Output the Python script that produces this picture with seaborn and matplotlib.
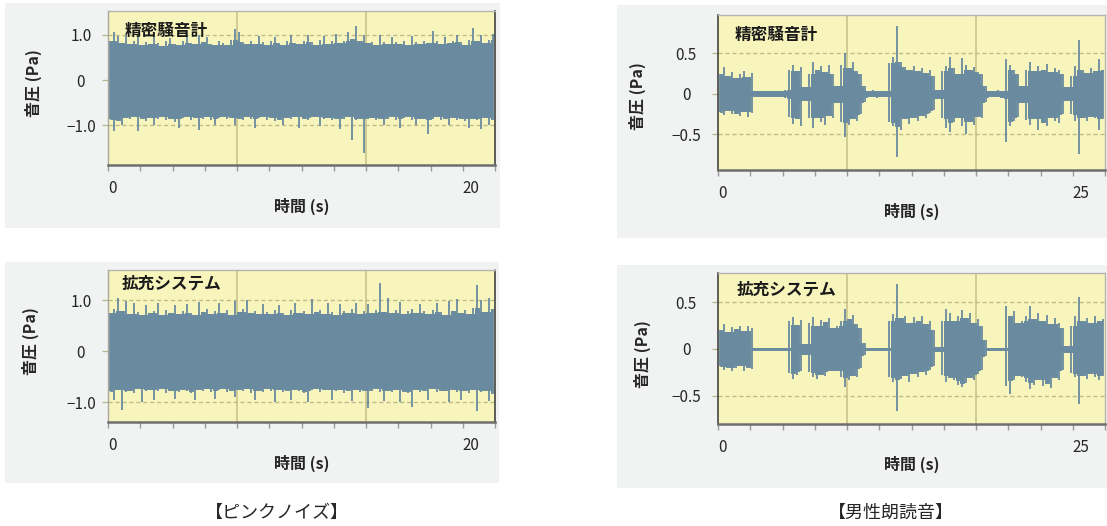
import numpy as np
import pandas as pd
import matplotlib
matplotlib.use("Agg")
import matplotlib.pyplot as plt
from matplotlib.patches import Rectangle
import seaborn as sns

sns.set_style("white")
plt.rcParams['font.family'] = ['Noto Sans CJK JP', 'DejaVu Sans']
plt.rcParams['axes.unicode_minus'] = True

# ---------------------------------------------------------------------------
# Data: waveform envelopes (max / min sound pressure per display column, Pa)
# 96 columns per trace, 8 columns per minor time division.
# ---------------------------------------------------------------------------
pink_meter_upper = [
    0.85, 1.05, 0.98, 0.82, 1.00, 0.80, 0.86, 0.95, 0.78, 0.84, 0.80, 0.95,
    0.82, 0.76, 0.85, 0.93, 0.80, 0.78, 0.86, 0.98, 0.82, 0.79, 1.00, 0.84,
    0.95, 0.80, 0.77, 0.86, 0.82, 0.78, 0.88, 1.13, 1.05, 0.83, 0.80, 0.87,
    0.79, 0.98, 0.84, 0.78, 0.85, 0.95, 0.81, 0.77, 0.86, 1.00, 0.82, 0.79,
    0.87, 1.00, 0.83, 0.78, 0.88, 0.98, 0.80, 0.85, 1.02, 0.82, 0.87, 1.05,
    0.90, 1.20, 0.86, 1.00, 0.81, 0.84, 0.78, 1.00, 0.83, 0.79, 0.95, 0.84,
    0.80, 0.87, 0.78, 0.98, 0.83, 0.80, 0.86, 0.82, 1.08, 0.85, 0.79, 0.95,
    0.81, 0.86, 1.00, 0.83, 0.78, 0.88, 1.15, 0.86, 1.00, 0.82, 0.88, 1.02,
]
pink_meter_lower = [
    -0.85, -1.12, -0.88, -1.00, -0.82, -0.86, -0.80, -1.12, -0.84, -0.90, -0.81, -1.00,
    -0.86, -0.79, -0.88, -0.83, -0.92, -1.05, -0.84, -0.80, -0.87, -0.82, -1.10, -0.85,
    -0.80, -0.88, -1.00, -0.83, -0.79, -0.86, -0.81, -0.98, -0.84, -0.88, -0.80, -0.86,
    -1.05, -0.83, -0.79, -0.87, -0.82, -0.90, -0.85, -1.00, -0.81, -0.86, -0.80, -1.05,
    -0.84, -0.88, -0.82, -0.79, -1.02, -0.85, -0.81, -0.87, -0.83, -1.08, -0.86, -0.80,
    -1.33, -0.88, -0.84, -1.60, -0.86, -0.81, -0.88, -0.83, -1.00, -0.85, -0.80, -0.87,
    -1.05, -0.84, -0.80, -0.88, -1.00, -0.83, -0.86, -1.18, -0.85, -0.80, -0.88, -0.84,
    -1.00, -0.81, -0.87, -0.83, -0.90, -1.05, -0.84, -0.88, -1.08, -0.82, -0.98, -0.86,
]
pink_system_upper = [
    0.75, 0.82, 1.05, 0.78, 0.98, 0.72, 0.95, 0.76, 0.70, 0.90, 0.74, 0.78,
    0.95, 0.71, 0.80, 0.75, 0.90, 0.73, 0.79, 0.93, 0.74, 0.70, 0.97, 0.77,
    0.82, 0.72, 0.78, 0.95, 0.74, 0.80, 0.71, 0.98, 0.76, 0.82, 1.00, 0.74,
    0.79, 0.72, 0.92, 0.77, 0.73, 0.81, 0.90, 0.75, 0.70, 0.80, 0.95, 0.74,
    0.78, 0.72, 1.02, 0.76, 0.81, 0.73, 0.95, 0.77, 0.71, 0.92, 0.79, 0.74,
    0.82, 0.95, 0.73, 0.78, 0.93, 0.75, 0.80, 1.33, 0.77, 1.05, 0.74, 0.80,
    0.97, 0.72, 0.78, 0.83, 0.75, 0.92, 0.79, 0.73, 0.81, 0.95, 0.76, 0.71,
    0.98, 0.78, 1.02, 0.75, 0.80, 0.73, 0.85, 1.30, 1.00, 0.77, 1.05, 0.82,
]
pink_system_lower = [
    -0.78, -0.95, -0.74, -1.15, -0.80, -0.76, -0.83, -0.72, -1.00, -0.79, -0.75, -0.95,
    -0.78, -0.73, -0.82, -0.76, -0.93, -0.80, -0.74, -0.78, -0.82, -0.95, -0.75, -0.79,
    -0.72, -0.81, -0.93, -0.77, -0.73, -0.80, -0.76, -0.90, -0.74, -0.79, -0.72, -0.82,
    -0.95, -0.76, -0.80, -0.73, -0.78, -1.00, -0.75, -0.81, -0.77, -0.95, -0.74, -0.79,
    -0.82, -1.00, -0.76, -0.72, -0.80, -0.77, -0.74, -0.95, -0.79, -0.75, -0.82, -0.77,
    -0.98, -0.74, -0.80, -0.76, -1.12, -0.78, -0.73, -0.81, -0.97, -0.76, -0.80, -0.74,
    -1.00, -0.78, -0.82, -1.10, -0.75, -0.80, -0.77, -0.95, -0.73, -0.81, -0.76, -0.79,
    -1.00, -0.74, -0.80, -0.95, -0.77, -0.82, -0.75, -1.17, -0.80, -0.76, -0.98, -0.83,
]
speech_meter_upper = [
    0.25, 0.33, 0.22, 0.27, 0.20, 0.24, 0.28, 0.21, 0.26, 0.04, 0.03, 0.04,
    0.03, 0.04, 0.03, 0.04, 0.05, 0.30, 0.36, 0.28, 0.33, 0.08, 0.25, 0.40,
    0.30, 0.34, 0.27, 0.36, 0.24, 0.10, 0.36, 0.51, 0.32, 0.40, 0.28, 0.24,
    0.10, 0.04, 0.05, 0.03, 0.04, 0.04, 0.38, 0.45, 0.84, 0.40, 0.33, 0.30,
    0.35, 0.28, 0.32, 0.26, 0.30, 0.22, 0.05, 0.28, 0.35, 0.46, 0.32, 0.25,
    0.44, 0.36, 0.30, 0.33, 0.27, 0.24, 0.10, 0.04, 0.03, 0.05, 0.04, 0.43,
    0.36, 0.30, 0.25, 0.10, 0.30, 0.40, 0.28, 0.34, 0.30, 0.37, 0.27, 0.32,
    0.30, 0.25, 0.08, 0.22, 0.35, 0.67, 0.30, 0.26, 0.32, 0.28, 0.43, 0.30,
]
speech_meter_lower = [
    -0.22, -0.26, -0.20, -0.25, -0.23, -0.27, -0.21, -0.28, -0.24, -0.03, -0.04, -0.03,
    -0.04, -0.03, -0.04, -0.03, -0.05, -0.28, -0.37, -0.30, -0.40, -0.08, -0.30, -0.42,
    -0.28, -0.35, -0.38, -0.26, -0.30, -0.10, -0.35, -0.53, -0.38, -0.30, -0.33, -0.25,
    -0.10, -0.04, -0.03, -0.05, -0.04, -0.03, -0.35, -0.40, -0.78, -0.45, -0.30, -0.37,
    -0.28, -0.33, -0.26, -0.30, -0.24, -0.20, -0.05, -0.30, -0.42, -0.47, -0.35, -0.28,
    -0.40, -0.49, -0.33, -0.38, -0.27, -0.30, -0.10, -0.04, -0.03, -0.04, -0.05, -0.59,
    -0.40, -0.33, -0.28, -0.10, -0.32, -0.38, -0.30, -0.44, -0.35, -0.40, -0.28, -0.33,
    -0.36, -0.25, -0.08, -0.25, -0.33, -0.74, -0.28, -0.33, -0.27, -0.30, -0.44, -0.30,
]
speech_system_upper = [
    0.20, 0.27, 0.18, 0.23, 0.21, 0.25, 0.19, 0.24, 0.22, 0.01, 0.01, 0.01,
    0.01, 0.01, 0.01, 0.01, 0.01, 0.30, 0.34, 0.26, 0.31, 0.05, 0.28, 0.34,
    0.25, 0.31, 0.29, 0.33, 0.22, 0.25, 0.30, 0.43, 0.32, 0.36, 0.27, 0.22,
    0.06, 0.01, 0.01, 0.01, 0.01, 0.01, 0.30, 0.37, 0.69, 0.33, 0.35, 0.28,
    0.34, 0.30, 0.35, 0.27, 0.30, 0.20, 0.02, 0.30, 0.43, 0.38, 0.30, 0.35,
    0.42, 0.33, 0.38, 0.28, 0.32, 0.25, 0.10, 0.01, 0.01, 0.01, 0.01, 0.46,
    0.35, 0.40, 0.28, 0.30, 0.35, 0.46, 0.32, 0.38, 0.30, 0.36, 0.27, 0.33,
    0.28, 0.22, 0.03, 0.25, 0.35, 0.55, 0.30, 0.33, 0.28, 0.35, 0.30, 0.32,
]
speech_system_lower = [
    -0.18, -0.22, -0.19, -0.24, -0.20, -0.17, -0.23, -0.19, -0.21, -0.01, -0.01, -0.01,
    -0.01, -0.01, -0.01, -0.01, -0.01, -0.26, -0.32, -0.28, -0.24, -0.05, -0.25, -0.30,
    -0.32, -0.27, -0.29, -0.24, -0.22, -0.22, -0.30, -0.41, -0.33, -0.28, -0.30, -0.20,
    -0.06, -0.01, -0.01, -0.01, -0.01, -0.01, -0.30, -0.35, -0.66, -0.32, -0.28, -0.35,
    -0.26, -0.30, -0.24, -0.28, -0.22, -0.18, -0.02, -0.28, -0.35, -0.30, -0.33, -0.38,
    -0.41, -0.36, -0.30, -0.33, -0.27, -0.22, -0.08, -0.01, -0.01, -0.01, -0.01, -0.40,
    -0.48, -0.33, -0.28, -0.30, -0.35, -0.43, -0.38, -0.32, -0.40, -0.36, -0.42, -0.30,
    -0.33, -0.22, -0.03, -0.26, -0.30, -0.59, -0.28, -0.32, -0.26, -0.30, -0.33, -0.28,
]

panel_titles = ["精密騒音計", "拡充システム"]
captions = ["【ピンクノイズ】", "【男性朗読音】"]
time_label_max = [20, 25]          # labelled end tick of each time axis (s)
amp_ticks = [1.0, 0.5]             # ± labelled pressure for each column
amp_tick_labels = [["−1.0", "0", "1.0"], ["−0.5", "0", "0.5"]]
x_label = "時間 (s)"
y_label = "音圧 (Pa)"

# ---------------------------------------------------------------------------
# Styling / layout (pixel boxes on a 1107 x 526 canvas)
# ---------------------------------------------------------------------------
W, H = 1107, 526
WAVE = "#6a8aa0"
PLOT_BG = "#f8f5bc"
PANEL_BG = "#f1f2f2"
VGRID = "#c9c48c"
HGRID = "#bfb98c"

panels = [
    dict(up=pink_meter_upper, lo=pink_meter_lower, col=0, row=0,
         box=(108, 11, 495, 165), bg=(5, 3, 500, 228), ylim=(-1.87, 1.52),
         ylab=(-0.194, 0.53), title=(0.044, 0.87), ypad=15.5),
    dict(up=speech_meter_upper, lo=speech_meter_lower, col=1, row=0,
         box=(718, 15, 1105, 170), bg=(617, 5, 1107, 238), ylim=(-0.94, 0.975),
         ylab=(-0.207, 0.48), title=(0.044, 0.87), ypad=19.0),
    dict(up=pink_system_upper, lo=pink_system_lower, col=0, row=1,
         box=(108, 270, 495, 422), bg=(5, 262, 499, 483), ylim=(-1.39, 1.59),
         ylab=(-0.20, 0.53), title=(0.034, 0.91), ypad=15.5),
    dict(up=speech_system_upper, lo=speech_system_lower, col=1, row=1,
         box=(718, 273, 1105, 424), bg=(617, 265, 1107, 488), ylim=(-0.80, 0.81),
         ylab=(-0.196, 0.46), title=(0.047, 0.89), ypad=19.0),
]

fig = plt.figure(figsize=(W / 100, H / 100), dpi=100)
fig.patch.set_facecolor("white")

# light grey frame behind each chart
for p in panels:
    x0, y0, x1, y1 = p["bg"]
    fig.add_artist(Rectangle((x0 / W, 1 - y1 / H), (x1 - x0) / W, (y1 - y0) / H,
                             transform=fig.transFigure, facecolor=PANEL_BG,
                             edgecolor="none", zorder=-10))

for p in panels:
    col = p["col"]
    x0, y0, x1, y1 = p["box"]
    ax = fig.add_axes([x0 / W, 1 - y1 / H, (x1 - x0) / W, (y1 - y0) / H])
    ax.set_zorder(1)
    ax.set_facecolor(PLOT_BG)

    minor = time_label_max[col] / 11.0
    n = len(p["up"])
    dt = minor / 8.0
    t = (np.arange(n) + 0.5) * dt
    df = pd.DataFrame({"t": t, "upper": p["up"], "lower": p["lo"]})
    # dense core of the trace: local extreme reached by neighbouring columns
    df["core_up"] = df["upper"].rolling(3, center=True, min_periods=1).min()
    df["core_lo"] = df["lower"].rolling(3, center=True, min_periods=1).max()

    # grid: vertical solid every 4 minor divisions, dashed at ± labelled pressure
    for k in (4, 8):
        ax.axvline(k * minor, color=VGRID, lw=1.2, zorder=0.5)
    a = amp_ticks[col]
    for v in (-a, a):
        ax.axhline(v, color=HGRID, lw=1.0, ls=(0, (3, 2)), zorder=0.5)

    # waveform: dense core plus one min-max stroke per display column
    ax.fill_between(df["t"], df["core_lo"], df["core_up"], step="mid",
                    color=WAVE, lw=0, zorder=2)
    sns.lineplot(data=df, x="t", y="core_up", drawstyle="steps-mid", color=WAVE,
                 lw=0.7, estimator=None, ax=ax, zorder=2.1)
    sns.lineplot(data=df, x="t", y="core_lo", drawstyle="steps-mid", color=WAVE,
                 lw=0.7, estimator=None, ax=ax, zorder=2.1)
    ax.vlines(df["t"], df["lower"], df["upper"], color=WAVE, lw=1.3, zorder=2.2)

    ax.set_xlim(0, 12 * minor)
    ax.set_ylim(*p["ylim"])

    # x axis: minor divisions with labels at 0 and end value
    ax.set_xticks([k * minor for k in range(13)])
    xl = [""] * 13
    xl[0] = "0"
    xl[11] = str(time_label_max[col])
    ax.set_xticklabels(xl, fontsize=11)
    for lab in ax.get_xticklabels():
        lab.set_horizontalalignment("left")
    ax.tick_params(axis="x", direction="out", length=4, width=1.0,
                   color="#9a9a9a", pad=7.0, bottom=True)

    ax.set_yticks([-a, 0, a])
    ax.set_yticklabels(amp_tick_labels[col], fontsize=11)
    for lab in ax.get_yticklabels():
        lab.set_horizontalalignment("center")
    ax.tick_params(axis="y", direction="out", length=4, width=0.9,
                   color="#b8b48a", pad=p["ypad"], left=True)

    ax.set_xlabel(x_label, fontsize=11.5, fontweight="bold")
    ax.xaxis.set_label_coords(0.5, -0.27)
    ax.xaxis.label.set_verticalalignment("center")
    ax.set_ylabel(y_label, fontsize=11.5, fontweight="bold")
    ax.yaxis.set_label_coords(*p["ylab"])
    ax.yaxis.label.set_verticalalignment("center")

    ax.text(p["title"][0], p["title"][1], panel_titles[p["row"]],
            transform=ax.transAxes, fontsize=12, fontweight="bold",
            ha="left", va="center", color="#1a1a1a", zorder=5)

    for s in ax.spines.values():
        s.set_visible(True)
        s.set_zorder(4)
    ax.spines["bottom"].set_color("#6e6e6e")
    ax.spines["bottom"].set_linewidth(1.8)
    ax.spines["top"].set_color("#b5b5b0")
    ax.spines["top"].set_linewidth(1.0)
    if col == 0:
        ax.spines["left"].set_color("#a8a8a0")
        ax.spines["left"].set_linewidth(1.0)
        ax.spines["right"].set_color("#444444")
        ax.spines["right"].set_linestyle((0, (1, 1)))
        ax.spines["right"].set_linewidth(1.2)
    else:
        ax.spines["left"].set_color("#444444")
        ax.spines["left"].set_linestyle((0, (1, 1)))
        ax.spines["left"].set_linewidth(1.2)
        ax.spines["right"].set_color("#b5b5b0")
        ax.spines["right"].set_linewidth(1.0)

fig.text(277 / W, 1 - 513 / H, captions[0], fontsize=13, ha="center", va="center")
fig.text(891 / W, 1 - 513 / H, captions[1], fontsize=13, ha="center", va="center")

fig.savefig("out.png", dpi=100, facecolor="white")
